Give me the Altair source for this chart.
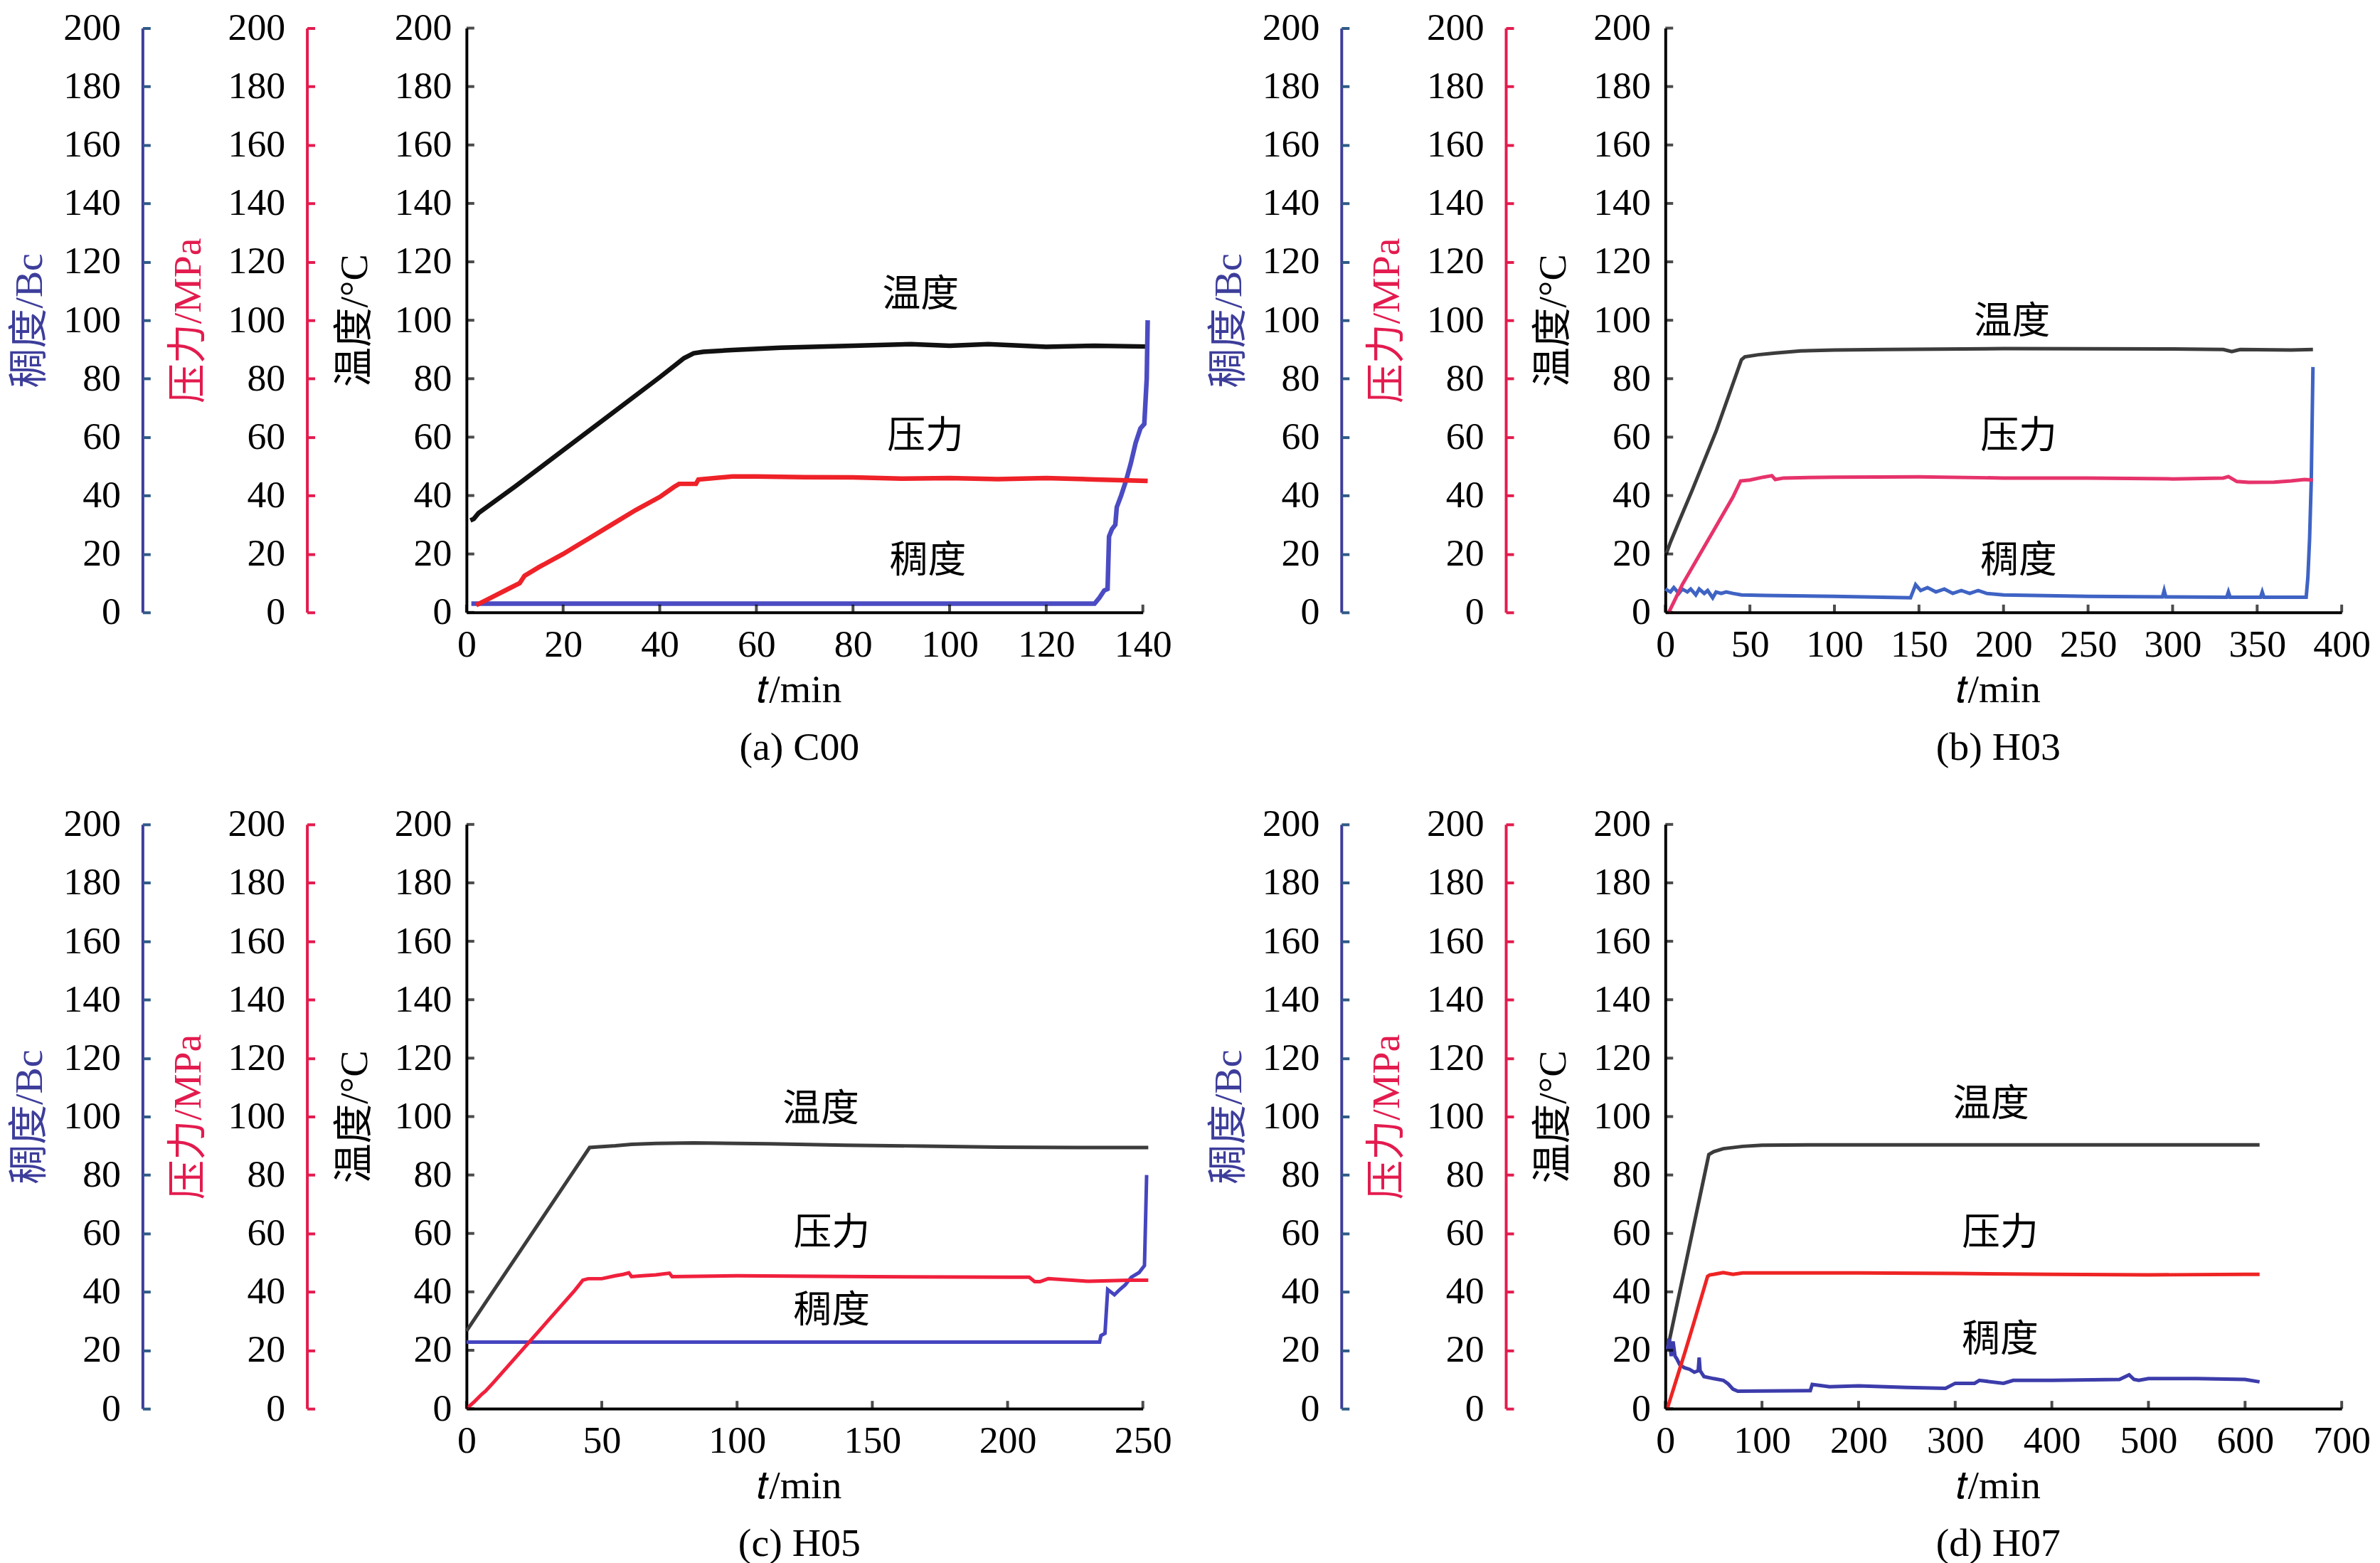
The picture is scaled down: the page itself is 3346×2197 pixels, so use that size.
import altair as alt
import pandas as pd

# ---------------- data ----------------
# (a) C00
a_temp_t = [0.8, 1.5, 2.5, 10, 20, 30, 40, 45, 47, 49, 55, 65, 80, 92, 100, 108, 120, 130, 141]
a_temp_v = [31.5, 32, 34, 43, 55.5, 68, 80.5, 87, 88.7, 89.2, 89.8, 90.6, 91.3, 91.8, 91.3, 91.8, 90.9, 91.3, 91]
a_pres_t = [2, 5, 8, 11, 12, 15, 20, 25, 30, 35, 40, 43, 44, 47.5, 48, 55, 60, 70, 80, 90, 100, 110, 120, 130, 141]
a_pres_v = [2.5, 5, 7.5, 10, 12.5, 15.5, 20, 25, 30, 35, 39.5, 43, 44, 44, 45.5, 46.5, 46.5, 46.3, 46.2, 45.8, 46, 45.6, 46, 45.5, 45]
a_cons_t = [1, 130, 131, 132, 132.7, 133, 133.6, 134.3, 134.6, 135.5, 136.5, 137.5, 138.5, 139.5, 140.3, 140.8, 141]
a_cons_v = [3, 3, 5, 7.5, 8, 26, 28.5, 30, 36, 40, 45, 51, 58, 63, 64.5, 80, 100]

# (b) H03
b_temp_t = [0.5, 3, 8, 16, 30, 45, 47, 55, 65, 80, 100, 130, 200, 300, 330, 335, 340, 370, 383]
b_temp_v = [20, 24, 31, 42, 62, 86.5, 87.5, 88.2, 88.8, 89.5, 89.8, 90, 90.3, 90.2, 90, 89.3, 90, 89.8, 90]
b_pres_t = [2, 10, 20, 30, 40, 44.5, 50, 58, 63, 65, 70, 100, 150, 200, 250, 300, 330, 333, 338, 345, 360, 370, 378, 383]
b_pres_v = [0, 9.5, 19.5, 29.5, 39.5, 45, 45.3, 46.3, 46.8, 45.5, 46, 46.3, 46.4, 46, 46, 45.7, 46, 46.5, 44.8, 44.5, 44.6, 45, 45.5, 45.3]
b_cons_t = [0, 3, 5, 8, 10, 13, 15, 18, 20, 23, 25, 28, 30, 33, 36, 40, 45, 60, 100, 145, 148, 151, 155, 160, 165,
            170, 175, 180, 185, 190, 200, 250, 294, 295, 296, 332, 333, 334, 352, 353, 354, 379, 380, 381, 382, 383]
b_cons_v = [8, 7, 8.5, 6.5, 8, 7, 8, 6, 8, 6.5, 7.5, 5, 7, 6.5, 7, 6.5, 6, 5.8, 5.5, 5, 9.5, 7.5, 8.5, 7, 8,
            6.5, 7.5, 6.5, 7.5, 6.5, 6, 5.5, 5.3, 7.5, 5.3, 5.2, 7, 5.2, 5.2, 7, 5.2, 5.2, 12, 25, 45, 84]

# (c) H05
c_temp_t = [0, 10, 20, 30, 40, 45.5, 48, 55, 61, 70, 84, 112, 140, 169, 197, 226, 252]
c_temp_v = [26.6, 40.4, 54.2, 68, 81.8, 89.4, 89.6, 90, 90.5, 90.8, 91, 90.7, 90.2, 89.9, 89.5, 89.4, 89.4]
c_pres_t = [0, 3, 5.7, 7, 10, 20, 30, 40, 43, 45, 50, 55, 58, 60, 61, 65, 70, 75, 76, 100, 150, 200, 208, 210, 212, 215, 230, 245, 252]
c_pres_v = [0, 2.5, 5, 6, 9, 19.5, 30, 40.5, 44, 44.5, 44.5, 45.5, 46, 46.5, 45.2, 45.5, 45.8, 46.4, 45.2, 45.5, 45.2, 45, 45, 43.5, 43.5, 44.5, 43.6, 44, 44]
c_cons_t = [0, 234, 234.5, 236, 237, 239.5, 241.5, 243.5, 245.7, 248.6, 250.6, 251.4]
c_cons_v = [22.8, 22.8, 25, 25.8, 40.8, 39, 40.8, 42.4, 45, 46.6, 49, 80]

# (d) H07
d_temp_t = [2, 10, 20, 30, 40, 45, 50, 60, 80, 100, 150, 200, 300, 400, 500, 615]
d_temp_v = [20, 32.5, 48, 63.6, 79.2, 87, 88, 89, 89.8, 90.2, 90.3, 90.3, 90.3, 90.3, 90.3, 90.3]
d_pres_t = [2, 10, 20, 30, 43.7, 46, 50, 55, 60, 70, 80, 100, 200, 300, 400, 500, 600, 615]
d_pres_v = [0, 8.5, 19, 30, 45.3, 45.8, 46, 46.3, 46.6, 46, 46.5, 46.5, 46.5, 46.3, 46, 45.8, 46, 46]
d_cons_t = [2, 4, 6, 8, 10, 12, 15, 20, 25, 30, 34, 35, 36, 38, 40, 50, 60, 65, 70, 75, 150, 152, 170, 200, 250,
            290, 300, 320, 325, 350, 360, 400, 470, 480, 485, 490, 500, 550, 600, 615]
d_cons_v = [20, 24, 18, 23, 18, 17, 15, 14, 13.5, 12.5, 13, 17.5, 13, 12, 11, 10.3, 9.7, 8.5, 6.7, 6, 6.2, 8.3, 7.5, 7.8, 7.3,
            7, 8.7, 8.7, 9.7, 8.7, 9.7, 9.7, 10, 11.6, 10, 9.7, 10.3, 10.3, 10, 9.2]

# annotation positions (data units) and labels
ann_text = ["温度", "压力", "稠度"]
a_ann_t, a_ann_v = [94, 95, 95.5], [108.6, 60, 17.5]
b_ann_t, b_ann_v = [205, 209, 209], [99.4, 60, 17.5]
c_ann_t, c_ann_v = [131, 135, 135], [102.3, 60, 33.3]
d_ann_t, d_ann_v = [337, 346.5, 346.5], [104, 60, 23.3]

captions = ["(a) C00", "(b) H03", "(c) H05", "(d) H07"]
y_ticks = list(range(0, 201, 20))

# ---------------- styling ----------------
FONT = "Liberation Serif, Noto Sans CJK SC"
CJK = "Noto Sans CJK SC, Liberation Serif"
W, H = 954, 824
BLUE_AX = "#3d3d9b"
RED_AX = "#e31b4e"
OFF_RED = 225
OFF_BLUE = 457
TICK = 11


def ysc():
    return alt.Scale(domain=[0, 200], nice=False)


def tick_axis(offset, color):
    # axis drawn just inside the coloured axis line so its ticks point inward
    return alt.Axis(orient="left", offset=offset, values=y_ticks, ticks=True,
                    tickSize=TICK, tickWidth=4, tickColor=color, tickOpacity=1,
                    labels=False, domain=False, zindex=2, title=None)


def panel(tt, tv, pt, pv, ct, cv, at, av, xmax, xstep, caption, colors, lw):
    tcol, pcol, ccol = colors
    xs = alt.Scale(domain=[0, xmax], nice=False)
    xt = list(range(0, xmax + 1, xstep))
    dt = pd.DataFrame({"t": tt, "v": tv})
    dp = pd.DataFrame({"t": pt, "v": pv})
    dc = pd.DataFrame({"t": ct, "v": cv})
    da = pd.DataFrame({"t": at, "v": av, "s": ann_text})

    temp = alt.Chart(dt).mark_line(color=tcol, strokeWidth=lw).encode(
        x=alt.X("t:Q", scale=xs, axis=alt.Axis(
            orient="bottom", values=xt, ticks=False, tickSize=0, labelPadding=19,
            domainColor="black", domainWidth=4, labelFlush=False, labelOverlap=False,
            title="𝑡/min", titleX=W / 2 - 8, titleY=109, titleAlign="center",
            titleBaseline="middle")),
        y=alt.Y("v:Q", scale=ysc(), axis=alt.Axis(
            orient="left", offset=0, values=y_ticks, ticks=False, tickSize=0,
            labelPadding=21, domainColor="black", domainWidth=4, labelOverlap=False,
            title="温度/°C", titleColor="black", titleX=-158, titleY=H / 2,
            titleAngle=270, titleAlign="center", titleBaseline="middle")),
    )
    pres = alt.Chart(dp).mark_line(color=pcol, strokeWidth=lw).encode(
        x=alt.X("t:Q", scale=xs, axis=None),
        y=alt.Y("v:Q", scale=ysc(), axis=alt.Axis(
            orient="left", offset=OFF_RED, values=y_ticks, ticks=False, tickSize=0,
            labelPadding=31, domainColor=RED_AX, domainWidth=4, labelOverlap=False,
            title="压力/MPa", titleColor=RED_AX, titleX=-168, titleY=H / 2,
            titleAngle=270, titleAlign="center", titleBaseline="middle")),
    )
    cons = alt.Chart(dc).mark_line(color=ccol, strokeWidth=lw).encode(
        x=alt.X("t:Q", scale=xs, axis=None),
        y=alt.Y("v:Q", scale=ysc(), axis=alt.Axis(
            orient="left", offset=OFF_BLUE, values=y_ticks, ticks=False, tickSize=0,
            labelPadding=31, domainColor=BLUE_AX, domainWidth=4, labelOverlap=False,
            title="稠度/Bc", titleColor=BLUE_AX, titleX=-159, titleY=H / 2,
            titleAngle=270, titleAlign="center", titleBaseline="middle")),
    )
    # caption below the x axis
    cap = alt.Chart(dt).mark_line(opacity=0).encode(
        x=alt.X("t:Q", scale=xs, axis=alt.Axis(
            orient="bottom", ticks=False, labels=False, domain=False,
            title=caption, titleX=W / 2 - 8, titleY=190, titleAlign="center",
            titleBaseline="middle", titleFont=FONT)),
        y=alt.Y("v:Q", scale=ysc(), axis=None),
    )
    # inward ticks of the coloured axes
    tk_red = alt.Chart(dp).mark_line(opacity=0).encode(
        x=alt.X("t:Q", scale=xs, axis=None),
        y=alt.Y("v:Q", scale=ysc(), axis=tick_axis(OFF_RED - TICK, RED_AX)),
    )
    tk_blue = alt.Chart(dc).mark_line(opacity=0).encode(
        x=alt.X("t:Q", scale=xs, axis=None),
        y=alt.Y("v:Q", scale=ysc(), axis=tick_axis(OFF_BLUE - TICK, "#2f5a86")),
    )
    # inward ticks of the temperature and time axes
    tk_y = alt.Chart(pd.DataFrame({"v": y_ticks})).mark_tick(
        orient="horizontal", size=TICK, thickness=4, color="black", xOffset=TICK / 2).encode(
        x=alt.XDatum(0, type="quantitative", scale=xs, axis=None),
        y=alt.Y("v:Q", scale=ysc(), axis=None),
    )
    tk_x = alt.Chart(pd.DataFrame({"t": xt})).mark_tick(
        orient="vertical", size=TICK, thickness=4, color="black", yOffset=-TICK / 2).encode(
        x=alt.X("t:Q", scale=xs, axis=None),
        y=alt.YDatum(0, type="quantitative", scale=ysc(), axis=None),
    )
    ann = alt.Chart(da).mark_text(font=CJK, fontSize=54, color="black").encode(
        x=alt.X("t:Q", scale=xs, axis=None),
        y=alt.Y("v:Q", scale=ysc(), axis=None),
        text="s:N",
    )
    return alt.layer(temp, cons, pres, cap, tk_red, tk_blue, tk_y, tk_x, ann).resolve_scale(
        y="independent").resolve_axis(x="independent", y="independent").properties(
        width=W, height=H)


pa = panel(a_temp_t, a_temp_v, a_pres_t, a_pres_v, a_cons_t, a_cons_v, a_ann_t, a_ann_v,
           140, 20, captions[0], ("#111111", "#ee2228", "#4b4bc3"), 6.5)
pb = panel(b_temp_t, b_temp_v, b_pres_t, b_pres_v, b_cons_t, b_cons_v, b_ann_t, b_ann_v,
           400, 50, captions[1], ("#3c3c3c", "#e6336b", "#3f63c4"), 5)
pc = panel(c_temp_t, c_temp_v, c_pres_t, c_pres_v, c_cons_t, c_cons_v, c_ann_t, c_ann_v,
           250, 50, captions[2], ("#3c3c3c", "#f0203c", "#4545c0"), 5)
pd_ = panel(d_temp_t, d_temp_v, d_pres_t, d_pres_v, d_cons_t, d_cons_v, d_ann_t, d_ann_v,
            700, 100, captions[3], ("#3c3c3c", "#ee2424", "#3c3cab"), 5)

chart = alt.concat(pa, pb, pc, pd_, columns=2, bounds="flush",
                   spacing=alt.RowColnumber(row=299, column=737)).properties(
    padding={"left": 6, "top": 1, "right": 5, "bottom": 5},
    background="white",
).configure(font=FONT).configure_view(stroke=None).configure_axis(
    grid=False, labelFont=FONT, labelFontSize=54, labelColor="black",
    titleFont=FONT, titleFontSize=56, titleFontWeight="normal",
)

chart.save("out.html", embed_options={"renderer": "svg", "actions": False})
